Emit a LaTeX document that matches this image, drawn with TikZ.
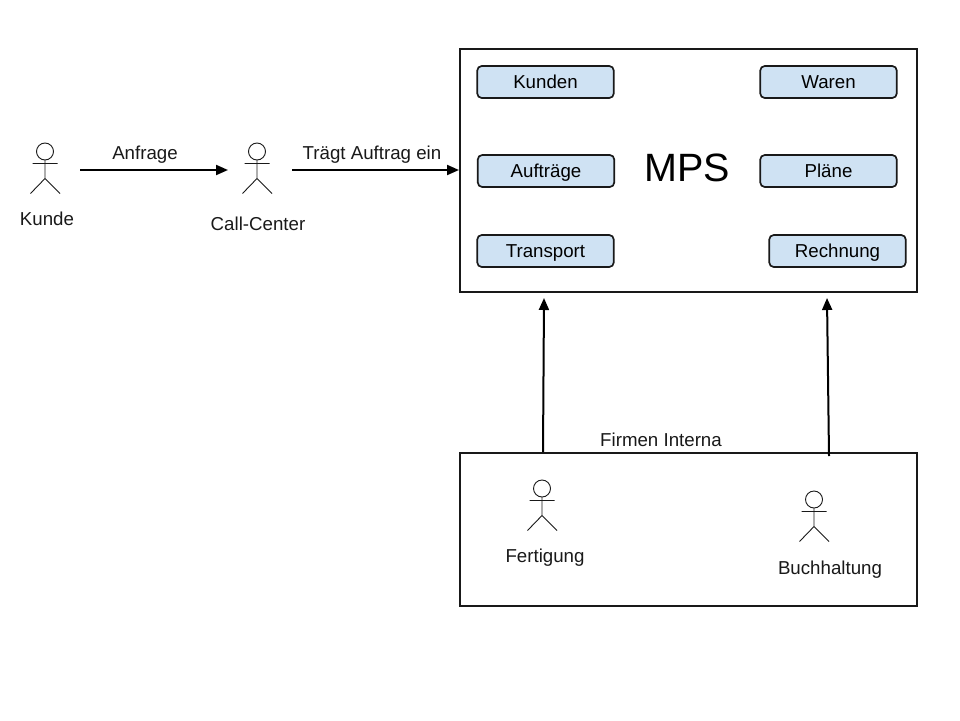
\documentclass[tikz,border=0pt]{standalone}
\usepackage{fontspec}
\setmainfont{Liberation Sans}
\usetikzlibrary{arrows.meta}
\definecolor{itemblue}{HTML}{CFE2F3}
\tikzset{
  lbl/.style={inner sep=0pt,text height=13pt,text depth=0pt,font=\fontsize{18.7}{21}\selectfont,text=black!90},
  frame/.style={fill=black!90,rectangle,inner sep=0pt,path picture={
    \fill[white] ([xshift=2pt,yshift=2pt]path picture bounding box.south west) rectangle ([xshift=-2pt,yshift=-2pt]path picture bounding box.north east);}},
  item/.style={draw=black!90,line width=1.7pt,fill=itemblue,rectangle,rounded corners=4.5pt,inner sep=0pt,minimum width=136.5pt,minimum height=32pt,text height=13pt,text depth=0pt,font=\fontsize{18.7}{21}\selectfont},
  conn/.style={draw=black,line width=2pt,-{Triangle[length=12pt,width=10pt]}},
  stick/.style={draw=black!90,line width=0.9pt},
  actor/.pic={
    \draw[stick] (0,0) circle (8.5);
    \draw[stick] (0,8.5) -- (0,27) (-12.5,12) -- (12.5,12) (0,27) -- (-14.5,42) (0,27) -- (15,42);
  }
}
\begin{document}
\begin{tikzpicture}[x=1pt,y=-1pt]
\useasboundingbox (0,0) rectangle (960,720);
\node[frame,minimum width=459pt,minimum height=245pt] (mps) at (688.5,170.5) {};
\node[frame,minimum width=459pt,minimum height=155pt] (firma) at (688.5,529.5) {};
\node[item] (kunden) at (545.5,82) {Kunden};
\node[item] (waren) at (828.5,82) {Waren};
\node[item] (auftraege) at (546,171) {Aufträge};
\node[item] (plaene) at (828.5,171) {Pläne};
\node[item] (transport) at (545.5,251) {Transport};
\node[item] (rechnung) at (837.5,251) {Rechnung};
\node[inner sep=0pt,anchor=base,font=\fontsize{39.5}{42}\selectfont] (mpslabel) at (687.5,181) {MPS};
\pic at (45,151.5) {actor};
\pic at (257,151.5) {actor};
\pic at (542,488.5) {actor};
\pic at (814,499.5) {actor};
\node[lbl] (kunde) at (47,218.5) {Kunde};
\node[lbl] (callcenter) at (258,224) {Call-Center};
\node[lbl] (fertigung) at (545,556) {Fertigung};
\node[lbl] (buchhaltung) at (830,567.5) {Buchhaltung};
\node[lbl] (anfrage) at (145,153) {Anfrage};
\node[lbl] (traegt) at (372,152.5) {Trägt Auftrag ein};
\node[lbl] (interna) at (661,440) {Firmen Interna};
\coordinate (kundeout) at (80,170);
\coordinate (callin) at (228,170);
\coordinate (callout) at (292,170);
\coordinate (mpsin) at (459,170);
\coordinate (fertout) at (543,452);
\coordinate (mpsa) at (544,298);
\coordinate (buchout) at (829,456);
\coordinate (mpsb) at (827,298);
\draw[conn] (kundeout) -- (callin);
\draw[conn] (callout) -- (mpsin);
\draw[conn] (fertout) -- (mpsa);
\draw[conn] (buchout) -- (mpsb);
\end{tikzpicture}
\end{document}
